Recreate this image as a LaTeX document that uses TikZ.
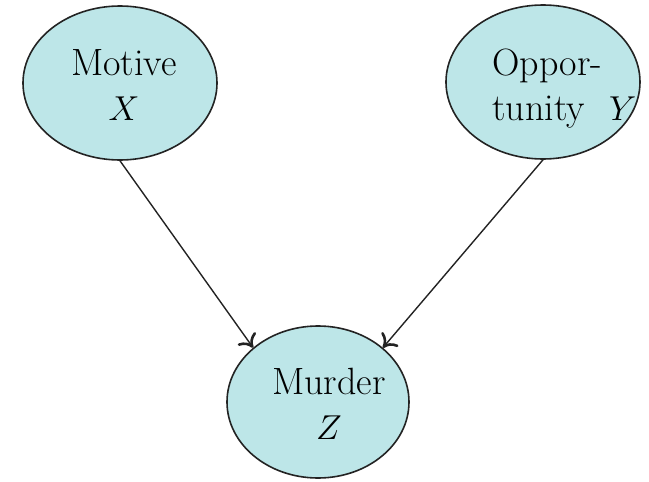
\documentclass[tikz,border=0pt]{standalone}
\usetikzlibrary{shapes.geometric,arrows.meta}
\definecolor{nodefill}{RGB}{189,230,232}
\definecolor{edgegray}{RGB}{35,35,35}
\tikzset{
  varnode/.style={ellipse, draw=edgegray, line width=0.8pt, fill=nodefill, inner sep=0pt},
  varlabel/.style={font=\fontsize{19}{22.5}\selectfont, inner sep=0pt, anchor=base},
  causal/.style={draw=edgegray, line width=0.7pt, -{To[length=6pt,width=11pt,line width=1.3pt]}}
}
\begin{document}
\begin{tikzpicture}[x=0.5pt,y=-0.5pt]
  \useasboundingbox (0,0) rectangle (649,482);
  % the three variables
  \node[varnode, minimum width=97pt, minimum height=77pt] (motive) at (120,83) {};
  \node[varnode, minimum width=97pt, minimum height=77pt] (opp) at (543,82) {};
  \node[varnode, minimum width=91pt, minimum height=76pt] (murder) at (318,402) {};
  % their labels (base anchor sits on the last line)
  \node[varlabel, align=center] (motiveText) at (124,120) {Motive\\$X$};
  \node[varlabel, align=left, anchor=base west] (oppText) at (492,120) {Oppor-\\tunity\hspace{12pt}$Y$};
  \node[varlabel, align=center] (murderText) at (329,439) {Murder\\$Z$};
  % causal links
  \draw[causal] (motive.south) -- (murder.north west);
  \draw[causal] (opp.south) -- (murder.north east);
\end{tikzpicture}
\end{document}
